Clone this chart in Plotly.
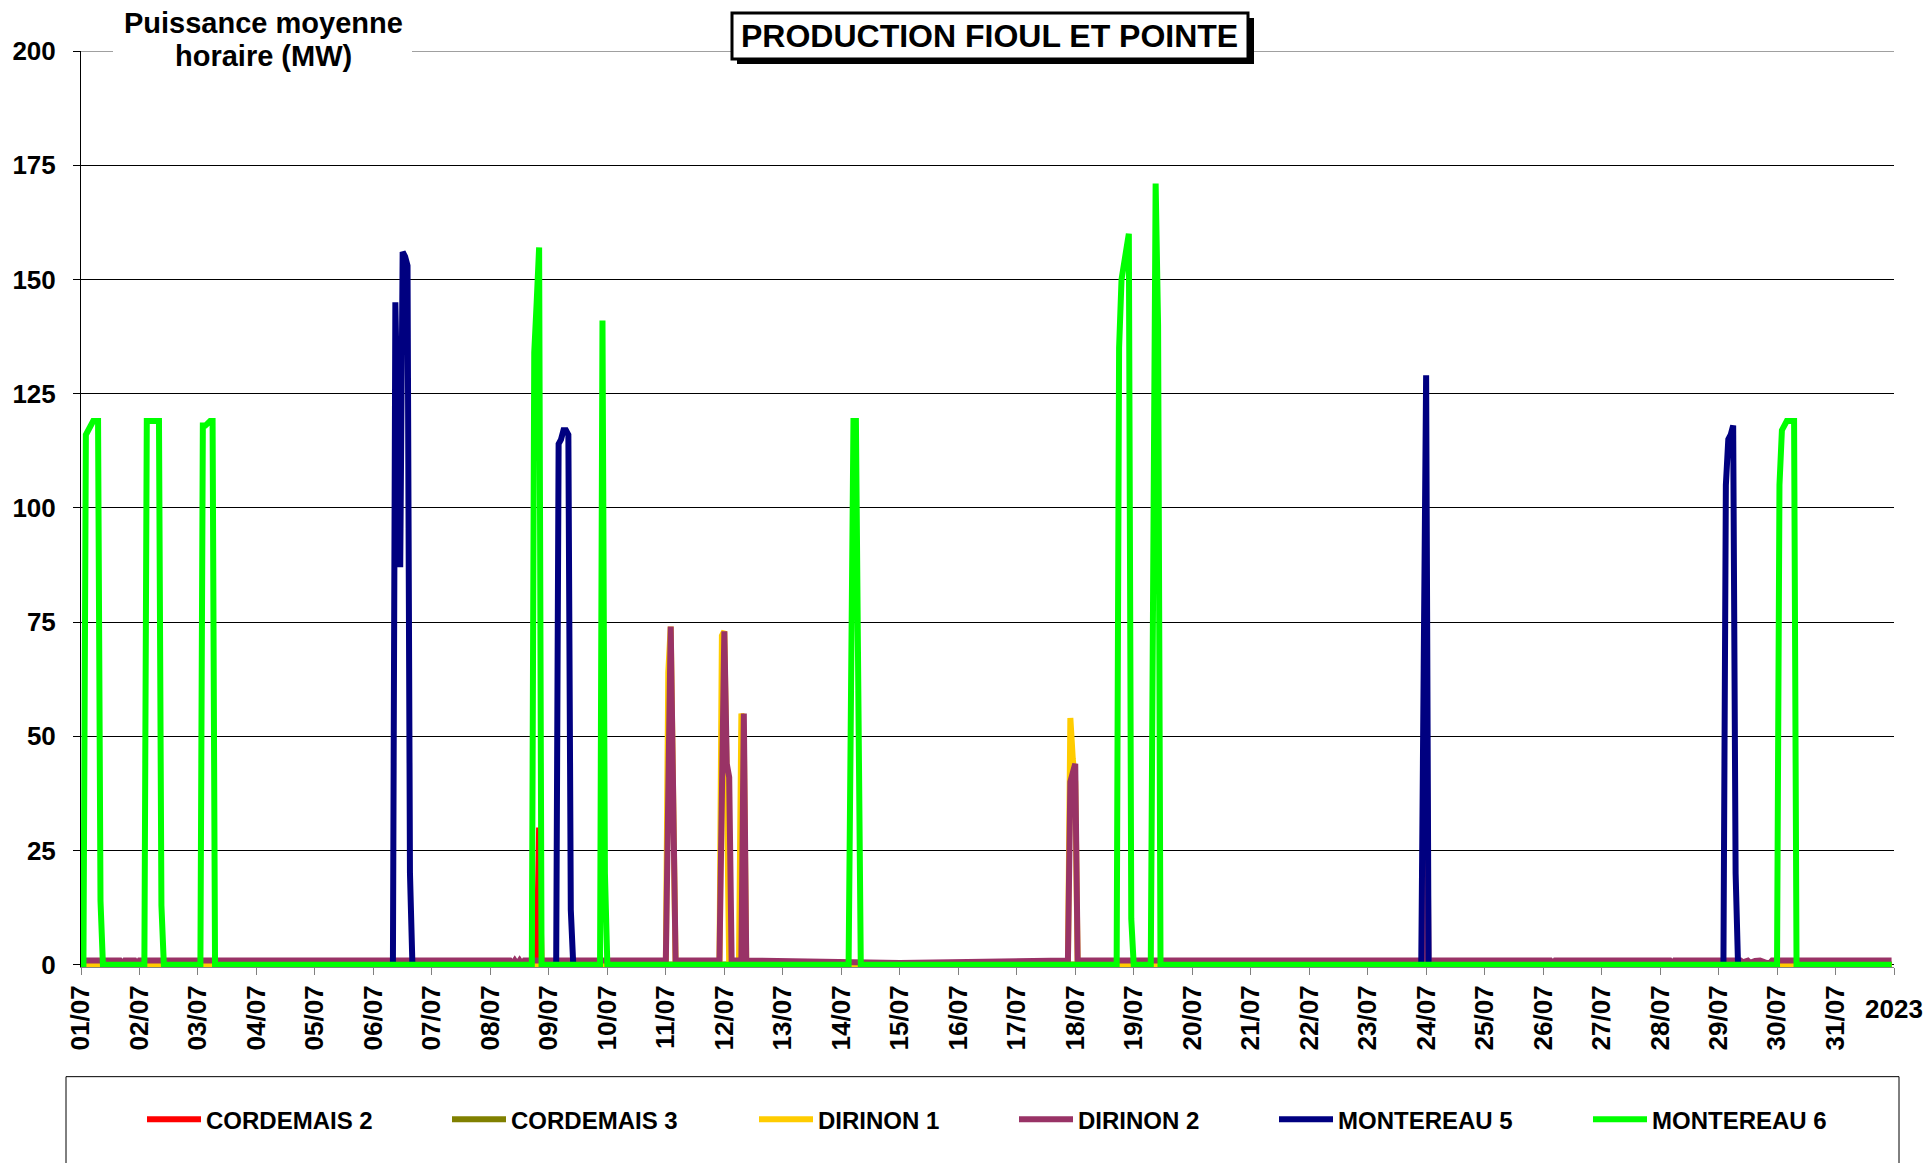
import pandas as pd
import plotly.graph_objects as go

# ---- data: breakpoints of hourly mean power (MW), July 2023, "DD HH" ----
CORDEMAIS_2_T = ["01 00", "08 19", "08 20", "08 21", "31 23"]
CORDEMAIS_2_MW = [0, 0, 30, 0, 0]

CORDEMAIS_3_T = ["01 00", "31 23"]
CORDEMAIS_3_MW = [0, 0]

DIRINON_1_T = ["01 00", "11 00", "11 01", "11 02", "11 04",
               "11 22", "11 23", "12 00", "12 01", "12 02", "12 06", "12 07", "12 08", "12 09",
               "17 21", "17 22", "17 23", "18 00", "18 01", "31 23"]
DIRINON_1_MW = [0, 0, 64, 74, 0,
                0, 72, 73, 40, 0, 0, 55, 50, 0,
                0, 54, 45, 40, 0, 0]

DIRINON_2_T = ["01 00", "01 16", "01 17", "01 18", "01 22", "01 23", "02 00",
               "08 08", "08 09", "08 10", "08 11", "08 12", "08 13", "08 14",
               "11 00", "11 02", "11 04",
               "11 22", "12 00", "12 01", "12 02", "12 03", "12 07", "12 08", "12 09",
               "15 00",
               "17 21", "17 22", "17 23", "18 00", "18 01",
               "23 23", "24 00", "24 01",
               "26 03", "26 04", "26 05", "28 04", "28 05", "28 06",
               "29 09", "29 10", "29 12", "29 13", "29 15", "29 17", "29 19", "29 21", "29 22",
               "31 23"]
DIRINON_2_MW = [0.9, 0.9, 0.1, 0.9, 0.9, 0.1, 0.9,
                0.9, 0.1, 0.9, 0.1, 0.9, 0.1, 0.9,
                0.9, 74, 0.9,
                0.9, 73, 44, 41, 0.9, 0.9, 55, 0.9,
                0.4,
                0.9, 40, 42, 44, 0.9,
                0.9, 63, 0.9,
                0.9, 0.2, 0.9, 0.9, 0.1, 0.9,
                0.9, 0.5, 0.9, 0.4, 0.8, 0.9, 0.5, 0.3, 0.9,
                0.9]

# Montereau 5 only runs in four blocks; None separates them (no output recorded between)
MONTEREAU_5_T = ["06 08", "06 09", "06 10", "06 11", "06 12", "06 13", "06 14", "06 15", "06 16",
                 "07 00",
                 "09 03", "09 04", "09 05", "09 06", "09 07", "09 08", "09 09", "09 10",
                 "10 00",
                 "23 21", "23 22", "23 23", "24 00", "24 01",
                 "25 00",
                 "29 02", "29 03", "29 04", "29 05", "29 06", "29 07", "29 08"]
MONTEREAU_5_MW = [0, 145, 116, 87, 156, 155, 153, 20, 0,
                  None,
                  0, 114, 115, 117, 117, 116, 12, 0,
                  None,
                  0, 0, 65, 129, 0,
                  None,
                  0, 105, 115, 116, 118, 20, 0]

MONTEREAU_6_T = ["01 00", "01 01", "01 02", "01 03", "01 04", "01 05", "01 06", "01 07", "01 08", "01 09",
                 "02 02", "02 03", "02 08", "02 09", "02 10",
                 "03 01", "03 02", "03 03", "03 04", "03 05", "03 06", "03 07",
                 "08 17", "08 18", "08 19", "08 20", "08 21",
                 "09 21", "09 22", "09 23", "10 00",
                 "14 03", "14 04", "14 05", "14 06", "14 07", "14 08",
                 "18 17", "18 18", "18 19", "18 20", "18 21", "18 22", "18 23", "19 00",
                 "19 07", "19 08", "19 09", "19 10", "19 11",
                 "30 00", "30 01", "30 02", "30 03", "30 04", "30 05", "30 06", "30 07", "30 08",
                 "31 23"]
MONTEREAU_6_MW = [0, 0, 116, 117, 118.5, 119, 119, 119, 14, 0,
                  0, 119, 119, 13, 0,
                  0, 118, 118, 118.5, 119, 119, 0,
                  0, 134, 145, 157, 0,
                  0, 141, 20, 0,
                  0, 60, 119, 119, 60, 0,
                  0, 135, 150, 153, 156, 160, 10, 0,
                  0, 85, 171, 140, 0,
                  0, 105, 117, 118, 119, 119, 119, 119, 0,
                  0]

SERIES = [
    ("CORDEMAIS 2", CORDEMAIS_2_T, CORDEMAIS_2_MW, "#FF0000"),
    ("CORDEMAIS 3", CORDEMAIS_3_T, CORDEMAIS_3_MW, "#808000"),
    ("DIRINON 1", DIRINON_1_T, DIRINON_1_MW, "#FFCC00"),
    ("DIRINON 2", DIRINON_2_T, DIRINON_2_MW, "#993366"),
    ("MONTEREAU 5", MONTEREAU_5_T, MONTEREAU_5_MW, "#000080"),
    ("MONTEREAU 6", MONTEREAU_6_T, MONTEREAU_6_MW, "#00FF00"),
]

Y_TICKS = [0, 25, 50, 75, 100, 125, 150, 175, 200]
YEAR_LABEL = "2023"
TITLE = "PRODUCTION FIOUL ET POINTE"
Y_TITLE_LINES = ["Puissance moyenne", "horaire (MW)"]


def to_time(s):
    return f"2023-07-{s[:2]} {s[3:]}:00"


# ---- page geometry (pixels) ----
W, H = 1924, 1163
PL, PR, PT, PB = 81, 1894, 51, 967.3


def fx(x):
    return (x - PL) / (PR - PL)


def fy(y):
    return (PB - y) / (PB - PT)


FONT = "Liberation Sans, Arial, sans-serif"

fig = go.Figure()

for i, (name, t, v, col) in enumerate(SERIES):
    lg = "legend" if i == 0 else f"legend{i + 1}"
    fig.add_trace(go.Scatter(
        x=[to_time(s) for s in t], y=v, name=name, mode="lines",
        line=dict(color=col, width=6), legend=lg, connectgaps=False,
        hoverinfo="x+y+name",
    ))

# one legend box per series, placed along the bottom frame
legend_text_x = [204, 509, 816, 1076, 1336, 1650]
legend_layouts = {}
for i, tx in enumerate(legend_text_x):
    key = "legend" if i == 0 else f"legend{i + 1}"
    legend_layouts[key] = dict(
        x=fx(tx - 62), y=fy(1120), xanchor="left", yanchor="middle",
        orientation="h", bgcolor="rgba(0,0,0,0)", borderwidth=0,
        font=dict(family=FONT, size=24, color="black", weight="bold"),
        itemwidth=54,
    )

day_ticks = pd.date_range("2023-07-01", "2023-08-01", freq="D")
tick_text = [d.strftime("%d/%m") for d in day_ticks[:-1]] + [""]

fig.update_layout(
    width=W, height=H,
    margin=dict(l=PL, r=W - PR, t=PT, b=H - PB, pad=0),
    paper_bgcolor="white", plot_bgcolor="white",
    showlegend=True,
    **legend_layouts,
    xaxis=dict(
        range=["2023-07-01 00:00", "2023-08-01 00:00"],
        tickvals=list(day_ticks), ticktext=tick_text, tickangle=-90,
        ticks="outside", ticklen=7, tickcolor="#808080", tickwidth=1,
        showline=True, linecolor="#808080", linewidth=1,
        showgrid=False, zeroline=False,
        tickfont=dict(family=FONT, size=26, color="black", weight="bold"),
    ),
    yaxis=dict(
        range=[-0.5, 200], tickvals=Y_TICKS,
        ticks="outside", ticklen=7, tickcolor="black", tickwidth=1,
        showline=True, linecolor="black", linewidth=1,
        showgrid=True, gridcolor="black", gridwidth=1, zeroline=False,
        ticklabelstandoff=12,
        tickfont=dict(family=FONT, size=26, color="black", weight="bold"),
    ),
)

shapes = [
    # top gridline in grey
    dict(type="line", xref="paper", yref="y", x0=0, x1=1, y0=200, y1=200,
         line=dict(color="#808080", width=1.5)),
    # white patch behind the axis title
    dict(type="rect", xref="paper", yref="paper", x0=fx(113), x1=fx(412), y0=fy(72), y1=fy(4),
         fillcolor="white", line=dict(width=0)),
    # title box shadow and box
    dict(type="rect", xref="paper", yref="paper", x0=fx(737), x1=fx(1254), y0=fy(64), y1=fy(18),
         fillcolor="black", line=dict(width=0)),
    dict(type="rect", xref="paper", yref="paper", x0=fx(732), x1=fx(1248), y0=fy(59), y1=fy(13),
         fillcolor="white", line=dict(color="black", width=3)),
    # legend frame
    dict(type="rect", xref="paper", yref="paper", x0=fx(66), x1=fx(1899), y0=fy(1250), y1=fy(1077),
         fillcolor="rgba(0,0,0,0)", line=dict(color="black", width=1)),
]

annotations = [
    dict(text=TITLE, xref="paper", yref="paper", x=fx(990), y=fy(36),
         xanchor="center", yanchor="middle", showarrow=False,
         font=dict(family=FONT, size=32, color="black", weight="bold")),
    dict(text=Y_TITLE_LINES[0], xref="paper", yref="paper", x=fx(263), y=fy(23),
         xanchor="center", yanchor="middle", showarrow=False,
         font=dict(family=FONT, size=29, color="black", weight="bold")),
    dict(text=Y_TITLE_LINES[1], xref="paper", yref="paper", x=fx(263), y=fy(56),
         xanchor="center", yanchor="middle", showarrow=False,
         font=dict(family=FONT, size=29, color="black", weight="bold")),
    dict(text=YEAR_LABEL, xref="x", yref="paper", x="2023-08-01 00:00", y=fy(1009),
         xanchor="center", yanchor="middle", showarrow=False,
         font=dict(family=FONT, size=26, color="black", weight="bold")),
]

fig.update_layout(shapes=shapes, annotations=annotations)

fig.write_html("out.html")
